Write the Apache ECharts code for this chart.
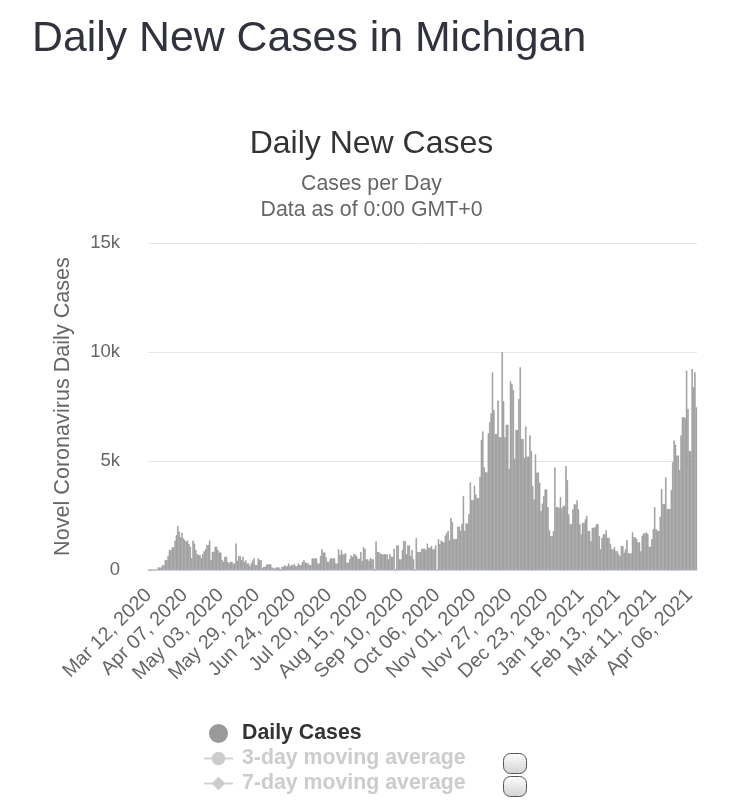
<!DOCTYPE html>
<html>
<head>
<meta charset="utf-8">
<script src="https://cdn.jsdelivr.net/npm/echarts@6/dist/echarts.min.js"></script>
<style>
html,body{margin:0;padding:0;background:#fff;}
#c{width:743px;height:800px;}
</style>
</head>
<body>
<div id="c"></div>
<script>
// ---- data ----
const startDate = [2020, 2, 12]; // Mar 12, 2020 (first category)
const monthNames = ['Jan','Feb','Mar','Apr','May','Jun','Jul','Aug','Sep','Oct','Nov','Dec'];
const dailyCases = [
  5,5,10,15,20,30,40,120,120,120,
  215,215,460,460,640,920,920,1040,1040,1350,
  1600,2020,1760,1500,1710,1450,1380,1300,1350,1200,
  1070,535,1350,1220,920,730,690,690,535,730,
  850,950,1150,1150,1350,460,840,840,1070,1070,
  920,800,800,460,380,610,610,380,300,380,
  380,300,300,1220,430,640,640,460,610,380,
  450,300,300,180,300,430,535,230,230,535,
  460,460,75,150,150,230,275,260,260,120,
  75,75,120,120,120,0,150,150,215,180,
  180,300,180,230,230,275,180,180,300,230,
  230,380,460,340,340,300,230,230,535,535,
  535,535,300,300,640,950,800,800,580,380,
  380,535,535,535,535,300,300,950,690,920,
  720,720,765,340,340,500,670,610,720,720,
  640,520,520,830,410,1055,980,490,490,410,
  565,490,490,0,1315,830,830,765,720,720,
  720,720,720,490,720,610,610,980,0,1130,
  1130,490,490,920,1330,1330,720,1130,1130,640,
  920,490,0,1470,830,830,830,980,980,980,
  920,1220,1025,1025,1100,950,950,1130,0,1420,
  1190,1350,1300,1270,1575,1700,1800,1350,2390,2190,
  1420,1420,1420,1990,1990,1800,2110,3400,1800,2140,
  2140,2570,4020,3210,3210,3870,3460,3300,3300,4280,
  5970,6360,4710,4480,4480,6270,6780,7190,9070,7340,
  6240,6240,7770,6090,6090,9990,7740,6090,6670,6670,
  4640,8660,8540,8260,5100,6430,6430,7850,9300,6010,
  6010,5140,6580,5200,5200,6170,5460,3860,3240,5310,
  4470,4470,4010,2710,3050,3400,3700,3700,2890,1820,
  1560,1560,1790,4700,2890,2890,2860,3350,2830,2940,
  2940,4770,4120,2560,2100,2100,2780,3010,3010,3200,
  2780,2100,1640,2170,2170,2330,2480,1790,1790,1330,
  1940,1940,1970,2100,2100,1560,950,1480,1640,1640,
  1820,1480,1480,1210,950,950,1060,870,870,720,
  640,1100,1100,800,960,1380,765,765,765,1730,
  1500,1500,1420,1270,1270,860,1575,1680,1680,1730,
  1650,1070,1070,1420,1880,2880,1880,1800,1800,2450,
  3720,3030,3030,4250,2800,2800,2800,3670,4940,5940,
  5750,5250,5250,4590,6170,7010,7010,6980,9150,7390,
  5450,5450,9230,8380,9070,7470
];
const ma3 = [];   // hidden series (legend off)
const ma7 = [];   // hidden series (legend off)
const yTickLabels = ['0', '5k', '10k', '15k'];
const seriesNames = ['Daily Cases', '3-day moving average', '7-day moving average'];

// categories: one per day
const categories = [];
for (let i = 0; i < dailyCases.length; i++) {
  const d = new Date(Date.UTC(startDate[0], startDate[1], startDate[2] + i));
  const dd = String(d.getUTCDate()).padStart(2, '0');
  categories.push(monthNames[d.getUTCMonth()] + ' ' + dd + ', ' + d.getUTCFullYear());
}

const FF = '"Liberation Sans", Arial, Helvetica, sans-serif';
const chart = echarts.init(document.getElementById('c'), null, {renderer: 'canvas'});
const selected = {};
selected[seriesNames[1]] = false;
selected[seriesNames[2]] = false;

const boxFill = {type: 'linear', x: 0, y: 0, x2: 0, y2: 1,
  colorStops: [{offset: 0, color: '#fefefe'}, {offset: 1, color: '#d2d2d2'}]};

chart.setOption({
  animation: false,
  backgroundColor: '#fff',
  textStyle: {fontFamily: FF},
  title: [
    {
      text: 'Daily New Cases in Michigan',
      left: 27, top: 13,
      textStyle: {fontSize: 42.8, fontWeight: 'normal', color: '#30323d', fontFamily: FF}
    },
    {
      text: 'Daily New Cases',
      subtext: 'Cases per Day\nData as of 0:00 GMT+0',
      left: 'center', top: 123,
      itemGap: 11,
      textStyle: {fontSize: 32, fontWeight: 'normal', color: '#333', fontFamily: FF},
      subtextStyle: {fontSize: 21.3, color: '#666', lineHeight: 26, fontFamily: FF}
    }
  ],
  grid: {left: 148, right: 46, top: 243, bottom: 230, containLabel: false},
  legend: {
    orient: 'vertical',
    left: 198, top: 718,
    itemGap: 4,
    itemWidth: 29, itemHeight: 17,
    selected: selected,
    inactiveColor: '#ccc',
    textStyle: {fontSize: 21.3, lineHeight: 21, fontWeight: 'bold', color: '#333', fontFamily: FF, padding: [0,0,0,4]},
    data: [{name: seriesNames[0], icon: 'circle'}, seriesNames[1], seriesNames[2]]
  },
  xAxis: {
    type: 'category',
    data: categories,
    axisLine: {lineStyle: {color: '#ccd6eb', width: 1}},
    axisTick: {show: false},
    axisLabel: {interval: 25, rotate: 45, fontSize: 19.8, color: '#666', margin: 22, fontFamily: FF}
  },
  yAxis: {
    type: 'value',
    min: 0, max: 15000, interval: 5000,
    name: 'Novel Coronavirus Daily Cases',
    nameLocation: 'middle',
    nameGap: 74,
    nameTextStyle: {fontSize: 21.6, color: '#666', fontFamily: FF},
    axisLine: {show: false},
    axisTick: {show: false},
    splitLine: {lineStyle: {color: '#e6e6e6', width: 1}},
    axisLabel: {
      fontSize: 18.5, color: '#666', margin: 28, fontFamily: FF,
      formatter: function (v) { return yTickLabels[Math.round(v / 5000)]; }
    }
  },
  series: [
    {
      name: seriesNames[0], type: 'bar', data: dailyCases,
      barCategoryGap: '0%',
      itemStyle: {color: '#999999', borderColor: '#999999', borderWidth: 0.6}
    },
    {
      name: seriesNames[1], type: 'line', data: ma3,
      symbol: 'circle', symbolSize: 10,
      itemStyle: {color: '#999'}, lineStyle: {width: 3}
    },
    {
      name: seriesNames[2], type: 'line', data: ma7,
      symbol: 'diamond', symbolSize: 12,
      itemStyle: {color: '#999'}, lineStyle: {width: 3}
    }
  ],
  graphic: [
    {
      type: 'rect', left: 503, top: 753,
      shape: {width: 23, height: 20, r: 7},
      style: {fill: boxFill, stroke: '#555', lineWidth: 1}
    },
    {
      type: 'rect', left: 503, top: 776,
      shape: {width: 23, height: 20, r: 7},
      style: {fill: boxFill, stroke: '#555', lineWidth: 1}
    }
  ]
});
</script>
</body>
</html>
